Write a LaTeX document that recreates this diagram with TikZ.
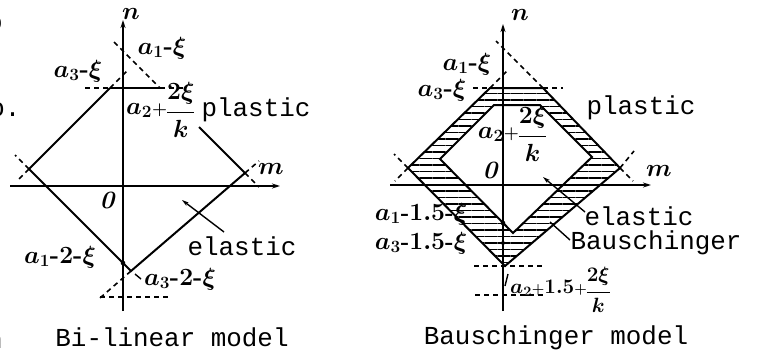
\documentclass[tikz,border=0pt]{standalone}
\usepackage{fontspec}
\newfontfamily\tw{Liberation Mono}
\usetikzlibrary{arrows.meta,patterns.meta}
\newcommand{\hy}{\mbox{\bfseries-}}
\newcommand{\smplus}{\mathord{\scriptstyle+}}
\newcommand{\lowfrac}[2]{\raisebox{-0.45ex}{$\nulldelimiterspace=0pt\displaystyle\frac{#1}{#2}$}}
\begin{document}
\begin{tikzpicture}[x=1bp,y=-1bp,
  edge/.style={line width=2bp},
  axisline/.style={line width=1.7bp,-{Stealth[length=8bp,width=5bp]}},
  dsh/.style={line width=1.6bp,dash pattern=on 5bp off 4bp},
  tt/.style={font=\fontsize{26}{26}\selectfont\tw, inner sep=0pt},
  lab/.style={font=\fontsize{25}{25}\selectfont\boldmath, inner sep=0pt},
  smlab/.style={font=\fontsize{23}{23}\selectfont\boldmath, inner sep=0pt},
  axlab/.style={font=\fontsize{28}{28}\selectfont\boldmath, inner sep=0pt},
  leader/.style={line width=1.4bp},
  hatch/.style={pattern={Lines[angle=0,distance=6.5bp,line width=1.8bp]}, even odd rule}
]
\useasboundingbox (0,0) rectangle (760,360);
\fill[white] (0,0) rectangle (760,360);

% clipped fragments of neighbouring text at left edge
\begin{scope}
\clip (0,0) rectangle (760,360);
\node[tt] (fragA) at (-5,24) {o};
\node[tt] (fragB) at (5,110) {o.};
\node[tt] (fragC) at (-5,342) {n};
\end{scope}

% ================= LEFT: Bi-linear model =================
\coordinate (LTl) at (110,88);
\coordinate (LTr) at (160,88);
\coordinate (LL) at (29,169);
\coordinate (LR) at (245,173);
\coordinate (LB) at (131,271);

\draw[axisline] (123,311) -- (123,20);
\draw[axisline] (10,186) -- (280,186);

\draw[edge] (LTl) -- (LTr);
\draw[dsh] (85,88) -- (LTl);
\draw[dsh] (LTr) -- (183,88);
\draw[edge] (LTl) -- (LL) -- (LB) -- (LR);
\draw[edge] (199,127) -- (LR);
% dashed extensions
\draw[dsh] (LTl) -- (128,70);
\draw[dsh] (114,42) -- (LTr);
\draw[dsh] (LL) -- (15,155);
\draw[dsh] (LL) -- (17,181);
\draw[dsh] (LR) -- (259,187);
\draw[dsh] (LR) -- (259,161);
\draw[dsh] (LB) -- (100,298);
\draw[dsh] (100,297) -- (172,297);
\fill (123,263) circle (2.3bp);

\node[axlab] (ln) at (131,14) {$n$};
\node[axlab] (lm) at (271,169) {$m$};
\node[lab] (l0) at (107,200) {\bfseries\itshape 0};
\node[lab] (la1) at (162,48) {$a_1\hy\xi$};
\node[lab] (la3) at (78,71) {$a_3\hy\xi$};
\node[smlab, anchor=west] (la2) at (126,110) {$a_2\smplus\lowfrac{2\xi}{k}$};
\node[tt] (lpl) at (256,110) {plastic};
\node[tt] (lel) at (242,246) {elastic};
\node[lab] (lb1) at (60,257) {$a_1\hy2\hy\xi$};
\node[lab] (lb3) at (180,279) {$a_3\hy2\hy\xi$};
\node[tt] (lcap) at (172,337) {Bi-linear model};
\draw[leader,-{Stealth[length=7bp,width=4bp]}] (224,232) -- (182,200);
\draw[leader] (141,279) -- (135,274);

% ================= RIGHT: Bauschinger model =================
\coordinate (OTl) at (490,88);
\coordinate (OTr) at (543,88);
\coordinate (OL) at (408,168);
\coordinate (OR) at (620,168);
\coordinate (OB) at (505,266);
\coordinate (ITl) at (494,105);
\coordinate (ITr) at (540,105);
\coordinate (IL) at (440,159);
\coordinate (IR) at (592,157);
\coordinate (IB) at (513,233);

\fill[hatch] (OTl) -- (OTr) -- (OR) -- (OB) -- (OL) -- cycle
             (ITl) -- (ITr) -- (IR) -- (IB) -- (IL) -- cycle;

\draw[axisline] (503,311) -- (503,24);
\draw[axisline] (390,185) -- (651,185);

\draw[edge] (OTl) -- (OTr) -- (OR) -- (OB) -- (OL) -- cycle;
\draw[edge] (ITl) -- (ITr) -- (IR) -- (IB) -- (IL) -- cycle;

\draw[dsh] (473,88) -- (OTl);
\draw[dsh] (OTr) -- (563,88);
\draw[dsh] (OTr) -- (496,41);
\draw[dsh] (OTl) -- (508,70);
\draw[dsh] (OL) -- (394,154);
\draw[dsh] (OL) -- (395,181);
\draw[dsh] (OR) -- (633,181);
\draw[dsh] (OR) -- (634,151);
\draw[dsh] (474,266) -- (545,266);
\draw[dsh] (475,295) -- (545,295);
\fill (503,223) circle (2.3bp);
\fill (503,243) circle (2bp);

\node[axlab] (rn) at (520,15) {$n$};
\node[axlab] (rm) at (659,171) {$m$};
\node[lab] (r0) at (490,170) {\bfseries\itshape 0};
\node[lab] (ra1) at (467,64) {$a_1\hy\xi$};
\node[lab] (ra3) at (442,90) {$a_3\hy\xi$};
\node[smlab] (ra2) at (512,134) {$a_2\smplus\lowfrac{2\xi}{k}$};
\node[tt] (rpl) at (641,108) {plastic};
\node[tt] (rel) at (639,216) {elastic};
\node[tt] (rba) at (656,243) {Bauschinger};
\node[font=\fontsize{23}{23}\selectfont\boldmath, inner sep=0pt] (rb1) at (421,214) {$a_1\hy1.5\hy\xi$};
\node[font=\fontsize{23}{23}\selectfont\boldmath, inner sep=0pt] (rb3) at (421,243) {$a_3\hy1.5\hy\xi$};
\node[font=\fontsize{21}{21}\selectfont\boldmath, inner sep=0pt, anchor=west] (rb2) at (510,290) {$a_2\smplus1.5\smplus\lowfrac{2\xi}{k}$};
\node[tt] (rcap) at (556,338) {Bauschinger model};
\draw[leader,-{Stealth[length=7bp,width=4bp]}] (585,212) -- (543,177);
\draw[leader] (570,240) -- (550,222);
\draw[leader] (508,274) -- (505,286);
\end{tikzpicture}
\end{document}
